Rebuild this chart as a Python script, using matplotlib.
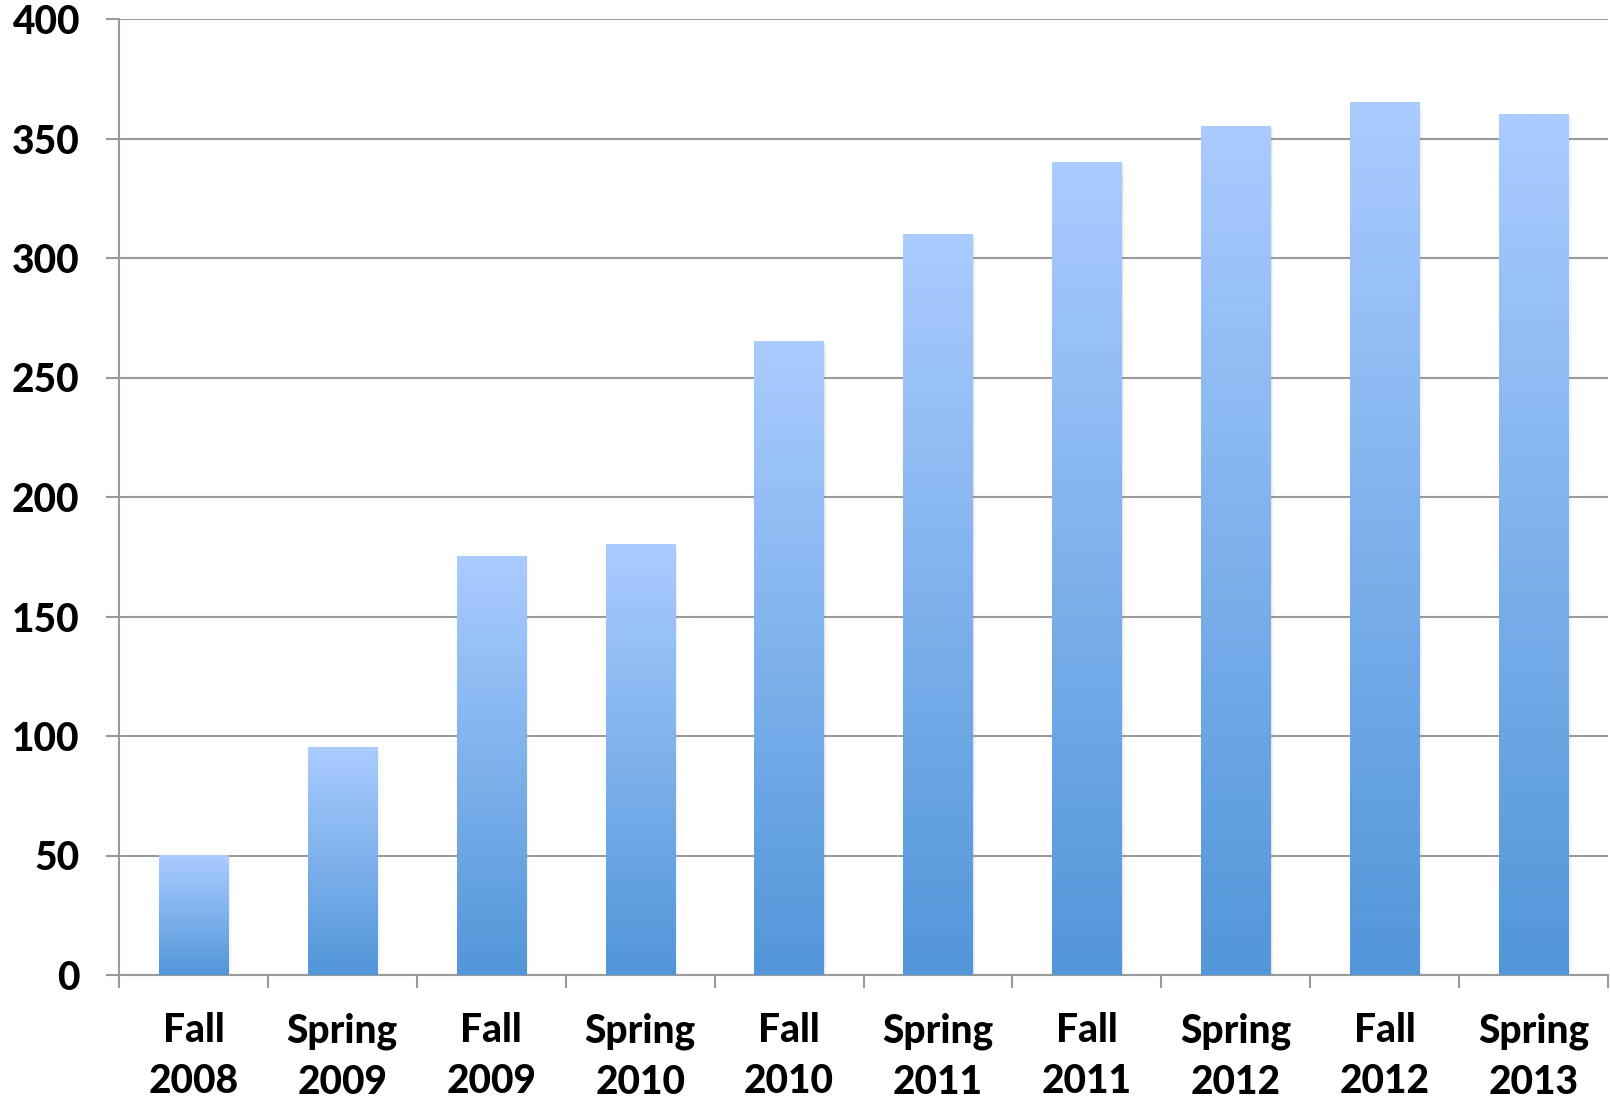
#!/usr/bin/python
#
# Semester bar chart, Fall 2008 through Spring 2013.

import matplotlib
matplotlib.use('Agg')
import matplotlib.pyplot as plt
import numpy as np

# Data
semesters = ['Fall\n2008', 'Spring\n2009', 'Fall\n2009', 'Spring\n2010', 'Fall\n2010',
             'Spring\n2011', 'Fall\n2011', 'Spring\n2012', 'Fall\n2012', 'Spring\n2013']
counts    = [50, 95, 175, 180, 265, 310, 340, 355, 365, 360]
y_ticks   = [0, 50, 100, 150, 200, 250, 300, 350, 400]

top_color    = np.array([0xAA, 0xCC, 0xFF]) / 255.0
bottom_color = np.array([0x52, 0x96, 0xD9]) / 255.0
grid_color   = '#9a9a9a'

plt.rcParams['font.family'] = ['Lato', 'DejaVu Sans']

fig = plt.figure(figsize=(16.10, 11.01), dpi=100)
ax  = fig.add_axes([119/1610., 126/1101., 1489/1610., 956/1101.])

x    = np.arange(len(counts))
bars = ax.bar(x, counts, width=0.465, color='none', edgecolor='none', zorder=3)

# Vertical gradient in each bar (light at the top, darker at the base)
grad = np.linspace(0, 1, 256)[:, None]
img  = bottom_color[None, None, :] * (1 - grad[..., None]) + top_color[None, None, :] * grad[..., None]
for b in bars:
    x0, w, h = b.get_x(), b.get_width(), b.get_height()
    # soft shadow on the right side
    for k, a in enumerate([0.10, 0.06, 0.03]):
        ax.add_patch(plt.Rectangle((x0 + 0.008*(k+1), 0), w, h - 0.6*(k+1),
                     facecolor='#7f7f7f', edgecolor='none', alpha=a, zorder=2))
    ax.imshow(img, extent=(x0, x0 + w, 0, h), origin='lower', aspect='auto',
              interpolation='bilinear', zorder=4)

ax.set_xlim(-0.5, len(counts) - 0.5)
ax.set_ylim(0, 400)

# Axes styling
for side in ['top', 'right']:
    ax.spines[side].set_visible(False)
for side in ['left', 'bottom']:
    ax.spines[side].set_color(grid_color)
    ax.spines[side].set_linewidth(1.5)

ax.set_yticks(y_ticks)
ax.set_yticklabels([str(v) for v in y_ticks])
ax.yaxis.grid(True, color=grid_color, linewidth=1.5, zorder=1)
ax.set_axisbelow(True)
ax.tick_params(axis='y', direction='out', length=9.4, width=1.5, color=grid_color,
               pad=19, labelsize=28)

ax.set_xticks(x)
ax.set_xticklabels(semesters, linespacing=1.45)
ax.set_xticks(np.arange(-0.5, len(counts), 1.0), minor=True)
ax.tick_params(axis='x', which='major', length=0, pad=27, labelsize=28)
ax.tick_params(axis='x', which='minor', direction='out', length=9.4, width=1.5, color=grid_color)

for lbl in ax.get_xticklabels() + ax.get_yticklabels():
    lbl.set_fontweight(900)

plt.savefig('out.png', dpi=100)
